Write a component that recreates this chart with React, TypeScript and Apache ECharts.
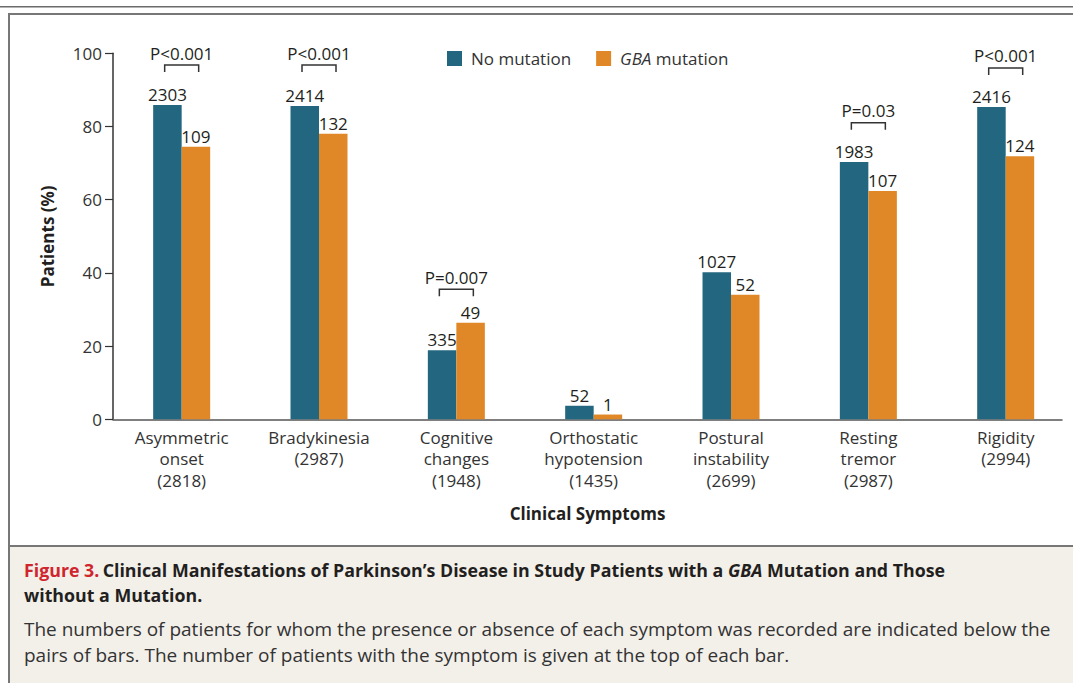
import React, { useEffect, useRef } from "react";
import * as echarts from "echarts";

const categories = [
  "Asymmetric\nonset\n(2818)",
  "Bradykinesia\n(2987)",
  "Cognitive\nchanges\n(1948)",
  "Orthostatic\nhypotension\n(1435)",
  "Postural\ninstability\n(2699)",
  "Resting\ntremor\n(2987)",
  "Rigidity\n(2994)",
];
const noMutationPct = [85.9, 85.6, 18.9, 3.7, 40.2, 70.3, 85.3];
const gbaPct = [74.5, 78.0, 26.4, 1.3, 34.0, 62.4, 71.9];
const noMutationCounts = [2303, 2414, 335, 52, 1027, 1983, 2416];
const gbaCounts = [109, 132, 49, 1, 52, 107, 124];
const pValueCategories = [0, 1, 2, 5, 6];
const pValueLabels = ["P<0.001", "P<0.001", "P=0.007", "P=0.03", "P<0.001"];
const bracketLevels = [96.8, 96.8, 35.5, 81.0, 96.0];
const yMin = 0;
const yMax = 100;
const yInterval = 20;

const FONT = '"Open Sans", sans-serif';
const BLUE = "#22677f";
const ORANGE = "#e08727";
const TEXT = "#231f20";
const FS = 17;
const CAP_B = 17.8;
const CAP_N = 19;

export default function App() {
  const ref = useRef<HTMLDivElement>(null);
  useEffect(() => {
    if (!ref.current) return;
    const chart = echarts.init(ref.current, null, { renderer: "svg" });
    const catIdx = categories.map((_, i) => i);
    chart.setOption({
      animation: false,
      backgroundColor: "#ffffff",
      textStyle: { fontFamily: FONT },
      graphic: [
        { type: "rect", z: -10, shape: { x: 9, y: 546, width: 1064, height: 137 }, style: { fill: "#f3f0ea" } },
        { type: "line", z: -5, shape: { x1: 0, y1: 6.8, x2: 1073, y2: 6.8 }, style: { stroke: "#6b6b6b", lineWidth: 1.5 } },
        { type: "line", z: -5, shape: { x1: 9, y1: 14, x2: 1073, y2: 14 }, style: { stroke: "#777777", lineWidth: 2 } },
        { type: "line", z: -5, shape: { x1: 9, y1: 13, x2: 9, y2: 683 }, style: { stroke: "#777777", lineWidth: 2 } },
        { type: "line", z: -5, shape: { x1: 9, y1: 546, x2: 1073, y2: 546 }, style: { stroke: "#777777", lineWidth: 2 } },
        {
          type: "text",
          x: 24,
          y: 570,
          style: {
            text: "{r|Figure 3.} {b|Clinical Manifestations of Parkinson\u2019s Disease in Study Patients with a }{bi|GBA}{b| Mutation and Those}",
            verticalAlign: "middle",
            rich: {
              r: { fill: "#d0252d", fontWeight: "bold", fontSize: CAP_B, fontFamily: FONT },
              b: { fill: TEXT, fontWeight: "bold", fontSize: CAP_B, fontFamily: FONT },
              bi: { fill: TEXT, fontWeight: "bold", fontStyle: "italic", fontSize: CAP_B, fontFamily: FONT },
            },
          },
        },
        {
          type: "text",
          x: 24,
          y: 594.5,
          style: { text: "without a Mutation.", verticalAlign: "middle", fill: TEXT, fontWeight: "bold", fontSize: CAP_B, fontFamily: FONT },
        },
        {
          type: "text",
          x: 24,
          y: 628.5,
          style: {
            text: "The numbers of patients for whom the presence or absence of each symptom was recorded are indicated below the",
            verticalAlign: "middle",
            fill: "#333333",
            fontSize: CAP_N,
            fontFamily: FONT,
          },
        },
        {
          type: "text",
          x: 24,
          y: 654.5,
          style: {
            text: "pairs of bars. The number of patients with the symptom is given at the top of each bar.",
            verticalAlign: "middle",
            fill: "#333333",
            fontSize: CAP_N,
            fontFamily: FONT,
          },
        },
      ],
      legend: {
        data: ["No mutation", "GBA mutation"],
        left: 447,
        top: 50,
        padding: 0,
        icon: "rect",
        itemWidth: 15,
        itemHeight: 15,
        itemGap: 25,
        formatter: (name: string) => (name === "GBA mutation" ? "{i|GBA} {n|mutation}" : "{n|" + name + "}"),
        textStyle: {
          color: "#333333",
          fontSize: FS,
          fontFamily: FONT,
          padding: [0, 0, 0, 4],
          rich: {
            n: { fontSize: FS, fontFamily: FONT, color: "#333333" },
            i: { fontSize: FS, fontFamily: FONT, color: "#333333", fontStyle: "italic" },
          },
        },
      },
      grid: { left: 113, right: 11, top: 53.3, bottom: 263.7 },
      xAxis: {
        type: "value",
        min: -0.5,
        max: 6.41,
        name: "Clinical Symptoms",
        nameLocation: "middle",
        nameGap: 86,
        nameTextStyle: { fontSize: FS, fontWeight: "bold", color: TEXT, fontFamily: FONT },
        axisLine: { show: true, onZero: false, lineStyle: { color: "#555555", width: 1.5 } },
        axisTick: { show: false },
        splitLine: { show: false },
        axisLabel: {
          customValues: catIdx,
          formatter: (v: number) => categories[Math.round(v)] ?? "",
          fontSize: FS,
          lineHeight: 21.6,
          color: "#333333",
          margin: 7,
          fontFamily: FONT,
        },
      },
      yAxis: {
        type: "value",
        min: yMin,
        max: yMax,
        interval: yInterval,
        name: "Patients (%)",
        nameLocation: "middle",
        nameGap: 57,
        nameTextStyle: { fontSize: FS, fontWeight: "bold", color: TEXT, fontFamily: FONT },
        axisLine: { show: true, onZero: false, lineStyle: { color: "#333333", width: 1.5 } },
        axisTick: { show: true, inside: false, length: 8, lineStyle: { color: "#333333", width: 1.2 } },
        splitLine: { show: false },
        axisLabel: { fontSize: FS, color: "#333333", margin: 11, fontFamily: FONT },
      },
      series: [
        {
          name: "No mutation",
          type: "bar",
          barWidth: 28.5,
          barGap: "0%",
          itemStyle: { color: BLUE },
          data: noMutationPct.map((v, i) => [i, v]),
          label: {
            show: true,
            position: "top",
            distance: 2,
            fontSize: FS,
            color: TEXT,
            fontFamily: FONT,
            formatter: (p: any) => String(noMutationCounts[p.dataIndex]),
          },
        },
        {
          name: "GBA mutation",
          type: "bar",
          barWidth: 28.5,
          barGap: "0%",
          itemStyle: { color: ORANGE },
          data: gbaPct.map((v, i) => [i, v]),
          label: {
            show: true,
            position: "top",
            distance: 2,
            fontSize: FS,
            color: TEXT,
            fontFamily: FONT,
            formatter: (p: any) => String(gbaCounts[p.dataIndex]),
          },
        },
        {
          name: "pvalues",
          type: "custom",
          silent: true,
          data: pValueCategories.map((c, k) => [c, bracketLevels[k]]),
          renderItem: (params: any, api: any) => {
            const c = api.coord([api.value(0), api.value(1)]);
            const hw = 17;
            const leg = 7;
            return {
              type: "group",
              children: [
                {
                  type: "polyline",
                  shape: {
                    points: [
                      [c[0] - hw, c[1] + leg],
                      [c[0] - hw, c[1]],
                      [c[0] + hw, c[1]],
                      [c[0] + hw, c[1] + leg],
                    ],
                  },
                  style: { stroke: "#333333", lineWidth: 1.5, fill: null },
                },
                {
                  type: "text",
                  style: {
                    text: pValueLabels[params.dataIndex],
                    x: c[0],
                    y: c[1] - 12,
                    align: "center",
                    verticalAlign: "middle",
                    fontSize: FS,
                    fontFamily: FONT,
                    fill: TEXT,
                  },
                },
              ],
            };
          },
        },
      ],
    });
    return () => chart.dispose();
  }, []);
  return <div ref={ref} style={{ position: "absolute", left: 0, top: 0, width: 1073, height: 683 }} />;
}
